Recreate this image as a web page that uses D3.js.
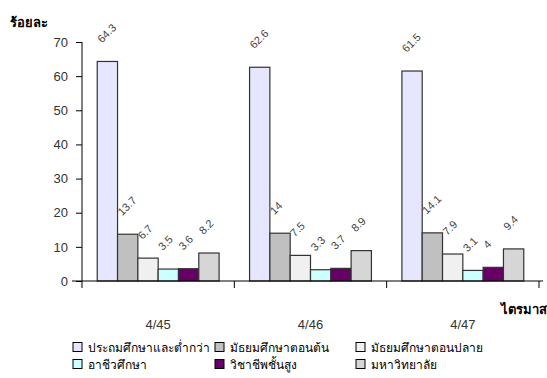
<!DOCTYPE html>
<html>
<head>
<meta charset="utf-8">
<script src="https://cdn.jsdelivr.net/npm/d3@7"></script>
<style>
  html, body { margin: 0; padding: 0; background: #fff; }
  svg { display: block; }
  text { font-family: "Liberation Sans", Arial, sans-serif; }
</style>
</head>
<body>
<svg id="chart" width="547" height="378"></svg>
<script>
// Quarters (x categories)
const quarters = ["4/45", "4/46", "4/47"];

// Education levels (series)
const levels = [
  "ประถมศึกษาและต่ำกว่า",
  "มัธยมศึกษาตอนต้น",
  "มัธยมศึกษาตอนปลาย",
  "อาชีวศึกษา",
  "วิชาชีพชั้นสูง",
  "มหาวิทยาลัย"
];

// Percentage per level, one value per quarter
const primary    = [64.3, 62.6, 61.5];
const lowerSec   = [13.7, 14.0, 14.1];
const upperSec   = [6.7, 7.5, 7.9];
const vocational = [3.5, 3.3, 3.1];
const diploma    = [3.6, 3.7, 4.0];
const university = [8.2, 8.9, 9.4];

const seriesValues = [primary, lowerSec, upperSec, vocational, diploma, university];
const yTicks = [0, 10, 20, 30, 40, 50, 60, 70];

const colors = ["#E6E6FF", "#C0C0C0", "#F0F0F0", "#CCFFFF", "#660066", "#D6D6D6"];

const svg = d3.select("#chart");
const plot = { left: 82, right: 539, top: 42, bottom: 281 };

const x0 = d3.scaleBand().domain(quarters).range([plot.left, plot.right]).paddingInner(0).paddingOuter(0);
// 6 bars + 150% gap per group
const x1 = d3.scaleBand().domain(d3.range(levels.length))
  .range([0, x0.bandwidth()]).paddingInner(0).paddingOuter(0.75);
const y = d3.scaleLinear().domain([0, 70]).range([plot.bottom, plot.top]);

// Y axis
const yAxis = svg.append("g")
  .attr("transform", `translate(${plot.left},0)`)
  .call(d3.axisLeft(y).tickValues(yTicks).tickSize(6).tickPadding(8).tickFormat(d3.format("d")));
yAxis.select(".domain").attr("stroke", "#000").attr("d", `M0,${plot.top}V${plot.bottom}`);
yAxis.selectAll(".tick line").attr("stroke", "#000");
yAxis.selectAll(".tick text").attr("font-size", 13).attr("fill", "#333")
  .attr("font-family", "Liberation Sans, Arial, sans-serif");

// Bars
const groups = svg.append("g").selectAll("g")
  .data(quarters)
  .join("g")
  .attr("transform", d => `translate(${x0(d)},0)`);

groups.selectAll("rect")
  .data((q, qi) => seriesValues.map((vals, si) => ({ si, v: vals[qi] })))
  .join("rect")
  .attr("x", d => x1(d.si))
  .attr("y", d => y(d.v))
  .attr("width", x1.bandwidth())
  .attr("height", d => y(0) - y(d.v))
  .attr("fill", d => colors[d.si])
  .attr("stroke", "#333")
  .attr("stroke-width", 1.2);

// Rotated value labels
groups.selectAll("text.val")
  .data((q, qi) => seriesValues.map((vals, si) => ({ si, v: vals[qi] })))
  .join("text")
  .attr("class", "val")
  .attr("transform", d => `translate(${x1(d.si) + x1.bandwidth() / 2 - 5.5},${y(d.v) - 18}) rotate(-45)`)
  .attr("font-size", 11)
  .attr("fill", "#444")
  .text(d => d3.format("")(d.v));

// X axis
const xAxis = svg.append("g").attr("transform", `translate(0,${plot.bottom})`);
xAxis.append("line")
  .attr("x1", plot.left - 10).attr("x2", plot.right + 4)
  .attr("stroke", "#000");
const boundaries = quarters.map(q => x0(q)).concat([x0(quarters[quarters.length - 1]) + x0.bandwidth()]);
xAxis.selectAll("line.tk").data(boundaries).join("line")
  .attr("class", "tk")
  .attr("x1", d => d).attr("x2", d => d)
  .attr("y1", 0).attr("y2", 7)
  .attr("stroke", "#000");
xAxis.selectAll("text").data(quarters).join("text")
  .attr("x", d => x0(d) + x0.bandwidth() / 2)
  .attr("y", 48)
  .attr("text-anchor", "middle")
  .attr("font-size", 13)
  .attr("fill", "#333")
  .text(d => d);

// Axis titles
svg.append("text").attr("x", 10).attr("y", 27)
  .attr("font-size", 13).attr("font-weight", "bold").attr("fill", "#000")
  .text("ร้อยละ");
svg.append("text").attr("x", 547).attr("y", 314)
  .attr("text-anchor", "end")
  .attr("font-size", 13).attr("font-weight", "bold").attr("fill", "#000")
  .text("ไตรมาส");

// Legend
const legX = [73, 215, 356];
const legY = [347, 364];
const legend = svg.append("g").selectAll("g")
  .data(levels)
  .join("g")
  .attr("transform", (d, i) => `translate(${legX[i % 3]},${legY[Math.floor(i / 3)]})`);
legend.append("rect")
  .attr("x", 0).attr("y", -4.5).attr("width", 9).attr("height", 9)
  .attr("fill", (d, i) => colors[i])
  .attr("stroke", "#000");
legend.append("text")
  .attr("x", 15).attr("y", 4.5)
  .attr("font-size", 12)
  .attr("fill", "#000")
  .text(d => d);
</script>
</body>
</html>
